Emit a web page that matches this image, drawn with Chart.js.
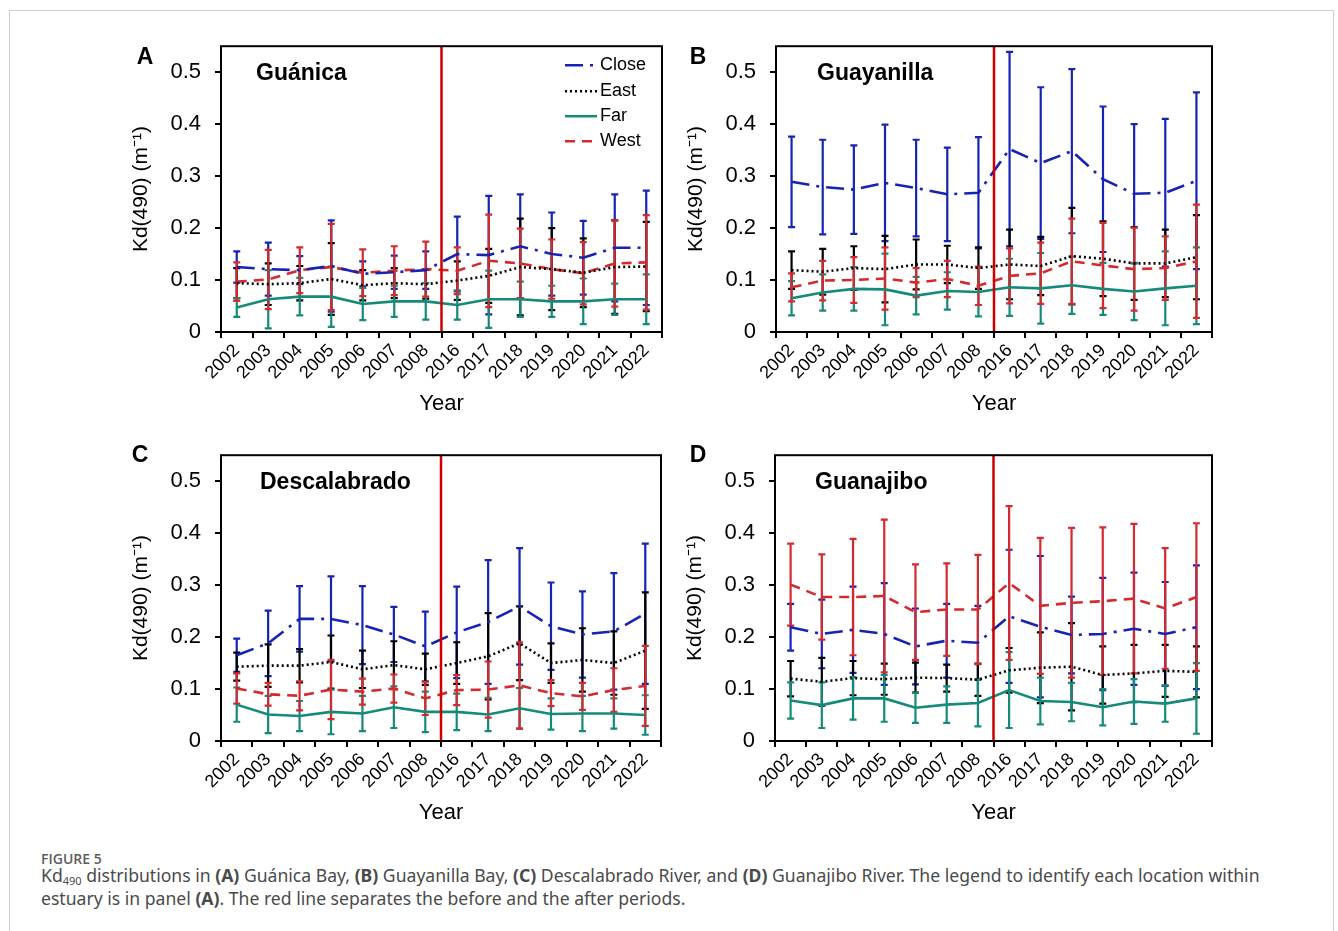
<!DOCTYPE html>
<html>
<head>
<meta charset="utf-8">
<script src="https://cdn.jsdelivr.net/npm/chart.js@4.4.0/dist/chart.umd.min.js"></script>
<style>
  body { margin: 0; background: #fff; width: 1338px; height: 931px; position: relative; overflow: hidden; }
  #frame { position: absolute; left: 9px; top: 10px; width: 1323px; height: 960px; border: 1px solid #cfcfcf; }
  canvas.panel { position: absolute; }
  #figlabel { position: absolute; left: 41px; top: 849px; font: 600 14px "Open Sans", sans-serif; color: #5c5c5c; }
  #caption { position: absolute; left: 41px; top: 864px; font: 17.6px "Noto Sans", sans-serif; line-height: 23px; color: #4a4a4a; white-space: nowrap; }
  #caption sub { font-size: 11px; vertical-align: -3px; line-height: 0; }
</style>
</head>
<body>
<div id="frame"></div>
<canvas id="chartA" class="panel" width="570" height="411" style="left:110px;top:19px"></canvas>
<canvas id="chartB" class="panel" width="570" height="411" style="left:665px;top:19px"></canvas>
<canvas id="chartC" class="panel" width="570" height="411" style="left:110px;top:428px"></canvas>
<canvas id="chartD" class="panel" width="570" height="411" style="left:664px;top:428px"></canvas>
<div id="figlabel">FIGURE 5</div>
<div id="caption">Kd<sub>490</sub> distributions in <b>(A)</b> Guánica Bay, <b>(B)</b> Guayanilla Bay, <b>(C)</b> Descalabrado River, and <b>(D)</b> Guanajibo River. The legend to identify each location within<br>estuary is in panel <b>(A)</b>. The red line separates the before and the after periods.</div>
<script>
// categories and axis
const years = ["2002", "2003", "2004", "2005", "2006", "2007", "2008", "2016", "2017", "2018", "2019", "2020", "2021", "2022"];
const seriesNames = ["Close", "East", "Far", "West"];
const yMax = 0.55;
const yStep = 0.1;

// A - Guánica
const guanicaCloseMean = [0.125, 0.121, 0.119, 0.127, 0.112, 0.115, 0.119, 0.150, 0.148, 0.165, 0.150, 0.143, 0.162, 0.162];
const guanicaCloseErr = [0.030, 0.051, 0.027, 0.088, 0.024, 0.032, 0.036, 0.072, 0.114, 0.100, 0.080, 0.071, 0.103, 0.110];
const guanicaEastMean = [0.094, 0.092, 0.094, 0.102, 0.090, 0.094, 0.092, 0.099, 0.108, 0.125, 0.121, 0.114, 0.125, 0.126];
const guanicaEastErr = [0.029, 0.040, 0.033, 0.069, 0.029, 0.029, 0.028, 0.037, 0.052, 0.093, 0.079, 0.066, 0.090, 0.086];
const guanicaFarMean = [0.047, 0.063, 0.068, 0.068, 0.054, 0.059, 0.059, 0.052, 0.063, 0.063, 0.059, 0.059, 0.063, 0.063];
const guanicaFarErr = [0.018, 0.056, 0.036, 0.058, 0.031, 0.030, 0.035, 0.028, 0.055, 0.034, 0.030, 0.044, 0.030, 0.048];
const guanicaWestMean = [0.097, 0.101, 0.119, 0.125, 0.114, 0.118, 0.121, 0.118, 0.137, 0.132, 0.121, 0.113, 0.132, 0.134];
const guanicaWestErr = [0.037, 0.057, 0.044, 0.083, 0.045, 0.047, 0.053, 0.045, 0.089, 0.067, 0.057, 0.060, 0.083, 0.091];

// B - Guayanilla
const guayanillaCloseMean = [0.289, 0.279, 0.274, 0.287, 0.277, 0.265, 0.268, 0.352, 0.325, 0.348, 0.294, 0.266, 0.268, 0.291];
const guayanillaCloseErr = [0.087, 0.091, 0.085, 0.112, 0.093, 0.090, 0.107, 0.187, 0.146, 0.158, 0.140, 0.134, 0.142, 0.170];
const guayanillaEastMean = [0.119, 0.116, 0.123, 0.121, 0.130, 0.130, 0.123, 0.130, 0.127, 0.146, 0.141, 0.132, 0.132, 0.144];
const guayanillaEastErr = [0.036, 0.044, 0.042, 0.064, 0.048, 0.036, 0.040, 0.067, 0.056, 0.093, 0.072, 0.070, 0.065, 0.081];
const guayanillaFarMean = [0.065, 0.076, 0.083, 0.082, 0.070, 0.079, 0.077, 0.086, 0.084, 0.090, 0.083, 0.078, 0.084, 0.089];
const guayanillaFarErr = [0.033, 0.035, 0.042, 0.069, 0.036, 0.036, 0.047, 0.055, 0.068, 0.055, 0.050, 0.055, 0.071, 0.074];
const guayanillaWestMean = [0.086, 0.099, 0.100, 0.103, 0.095, 0.102, 0.089, 0.108, 0.113, 0.136, 0.128, 0.121, 0.123, 0.136];
const guayanillaWestErr = [0.027, 0.038, 0.044, 0.060, 0.028, 0.035, 0.037, 0.053, 0.059, 0.082, 0.082, 0.080, 0.061, 0.109];

// C - Descalabrado
const descalabradoCloseMean = [0.165, 0.188, 0.235, 0.235, 0.223, 0.205, 0.182, 0.209, 0.229, 0.259, 0.221, 0.205, 0.211, 0.245];
const descalabradoCloseErr = [0.032, 0.063, 0.063, 0.082, 0.075, 0.053, 0.067, 0.088, 0.119, 0.112, 0.084, 0.083, 0.112, 0.135];
const descalabradoEastMean = [0.143, 0.145, 0.145, 0.152, 0.138, 0.146, 0.138, 0.150, 0.163, 0.188, 0.150, 0.156, 0.150, 0.174];
const descalabradoEastErr = [0.027, 0.041, 0.032, 0.051, 0.036, 0.046, 0.030, 0.040, 0.083, 0.071, 0.038, 0.061, 0.061, 0.112];
const descalabradoFarMean = [0.070, 0.051, 0.048, 0.056, 0.053, 0.065, 0.056, 0.056, 0.051, 0.063, 0.052, 0.053, 0.053, 0.050];
const descalabradoFarErr = [0.033, 0.036, 0.029, 0.043, 0.034, 0.040, 0.039, 0.035, 0.032, 0.039, 0.030, 0.034, 0.029, 0.038];
const descalabradoWestMean = [0.101, 0.090, 0.087, 0.099, 0.095, 0.101, 0.082, 0.098, 0.099, 0.107, 0.092, 0.086, 0.098, 0.106];
const descalabradoWestErr = [0.029, 0.022, 0.028, 0.057, 0.025, 0.027, 0.032, 0.029, 0.054, 0.083, 0.025, 0.026, 0.042, 0.077];

// D - Guanajibo
const guanajiboCloseMean = [0.219, 0.206, 0.214, 0.206, 0.182, 0.193, 0.189, 0.240, 0.220, 0.204, 0.206, 0.216, 0.206, 0.219];
const guanajiboCloseErr = [0.045, 0.066, 0.083, 0.098, 0.073, 0.071, 0.071, 0.128, 0.136, 0.074, 0.108, 0.108, 0.100, 0.119];
const guanajiboEastMean = [0.120, 0.114, 0.121, 0.119, 0.122, 0.121, 0.118, 0.136, 0.141, 0.143, 0.127, 0.130, 0.135, 0.133];
const guanajiboEastErr = [0.034, 0.046, 0.033, 0.030, 0.029, 0.026, 0.031, 0.043, 0.068, 0.084, 0.055, 0.055, 0.050, 0.049];
const guanajiboFarMean = [0.078, 0.069, 0.082, 0.082, 0.064, 0.070, 0.073, 0.098, 0.077, 0.075, 0.065, 0.076, 0.072, 0.082];
const guanajiboFarErr = [0.035, 0.044, 0.041, 0.045, 0.029, 0.035, 0.045, 0.073, 0.045, 0.037, 0.035, 0.043, 0.035, 0.068];
const guanajiboWestMean = [0.301, 0.277, 0.277, 0.279, 0.248, 0.253, 0.253, 0.304, 0.260, 0.266, 0.269, 0.274, 0.255, 0.277];
const guanajiboWestErr = [0.079, 0.082, 0.112, 0.147, 0.092, 0.089, 0.105, 0.148, 0.131, 0.144, 0.142, 0.144, 0.116, 0.142];

const FONT = "'Liberation Sans', Arial, sans-serif";
const seriesColors = ["#1624b4", "#000000", "#168a78", "#d42a2e"];
const seriesDash = [[18, 7, 3, 7], [2, 3], [], [10, 7]];

const panels = [
  { id: "chartA", letter: "A", title: "Guánica", padR: 18, titleDx: 35, letterX: 35, letterY: 39, legend: true,
    means: [guanicaCloseMean, guanicaEastMean, guanicaFarMean, guanicaWestMean],
    errs: [guanicaCloseErr, guanicaEastErr, guanicaFarErr, guanicaWestErr] },
  { id: "chartB", letter: "B", title: "Guayanilla", padR: 23, titleDx: 41, letterX: 33, letterY: 39, legend: false,
    means: [guayanillaCloseMean, guayanillaEastMean, guayanillaFarMean, guayanillaWestMean],
    errs: [guayanillaCloseErr, guayanillaEastErr, guayanillaFarErr, guayanillaWestErr] },
  { id: "chartC", letter: "C", title: "Descalabrado", padR: 19, titleDx: 39, letterX: 30, letterY: 28, legend: false,
    means: [descalabradoCloseMean, descalabradoEastMean, descalabradoFarMean, descalabradoWestMean],
    errs: [descalabradoCloseErr, descalabradoEastErr, descalabradoFarErr, descalabradoWestErr] },
  { id: "chartD", letter: "D", title: "Guanajibo", padR: 22, titleDx: 40, letterX: 34, letterY: 28, legend: false,
    means: [guanajiboCloseMean, guanajiboEastMean, guanajiboFarMean, guanajiboWestMean],
    errs: [guanajiboCloseErr, guanajiboEastErr, guanajiboFarErr, guanajiboWestErr] },
];

function makeExtras(p) {
  return {
    id: "kdExtras",
    beforeDatasetsDraw(chart) {
      // error bars under the lines
      const ctx = chart.ctx;
      const ys = chart.scales.y;
      ctx.save();
      ctx.lineWidth = 2.2;
      ctx.setLineDash([]);
      chart.data.datasets.forEach((ds, i) => {
        const meta = chart.getDatasetMeta(i);
        ctx.strokeStyle = ds.borderColor;
        meta.data.forEach((pt, j) => {
          const m = ds.data[j];
          const e = ds.errors[j];
          const yt = ys.getPixelForValue(m + e);
          const yb = ys.getPixelForValue(m - e);
          ctx.beginPath();
          ctx.moveTo(pt.x, yt);
          ctx.lineTo(pt.x, yb);
          ctx.moveTo(pt.x - 3.5, yt);
          ctx.lineTo(pt.x + 3.5, yt);
          ctx.moveTo(pt.x - 3.5, yb);
          ctx.lineTo(pt.x + 3.5, yb);
          ctx.stroke();
        });
      });
      ctx.restore();
    },
    afterDatasetsDraw(chart) {
      const ctx = chart.ctx;
      const xs = chart.scales.x;
      const a = chart.chartArea;
      // before / after separator
      const xSep = (xs.getPixelForValue(6) + xs.getPixelForValue(7)) / 2;
      ctx.save();
      ctx.strokeStyle = "#cc0000";
      ctx.lineWidth = 2.5;
      ctx.beginPath();
      ctx.moveTo(xSep, a.top);
      ctx.lineTo(xSep, a.bottom);
      ctx.stroke();
      ctx.restore();
    },
    afterDraw(chart) {
      const ctx = chart.ctx;
      const a = chart.chartArea;
      ctx.save();
      ctx.strokeStyle = "#000";
      ctx.lineWidth = 2;
      ctx.strokeRect(a.left, a.top, a.right - a.left, a.bottom - a.top);
      ctx.fillStyle = "#000";
      ctx.textBaseline = "middle";
      ctx.textAlign = "left";
      ctx.font = "bold 23px " + FONT;
      ctx.fillText(p.title, a.left + p.titleDx, a.top + 27);
      ctx.textAlign = "center";
      ctx.font = "bold 23px " + FONT;
      ctx.fillText(p.letter, p.letterX, p.letterY);
      if (p.legend) {
        ctx.font = "18px " + FONT;
        ctx.textAlign = "left";
        const rows = [19, 45, 70, 95];
        chart.data.datasets.forEach((ds, i) => {
          const yy = a.top + rows[i];
          ctx.strokeStyle = ds.borderColor;
          ctx.lineWidth = 2.5;
          ctx.setLineDash(ds.borderDash);
          ctx.beginPath();
          ctx.moveTo(a.right - 97, yy);
          ctx.lineTo(a.right - 65, yy);
          ctx.stroke();
          ctx.setLineDash([]);
          ctx.fillText(ds.label, a.right - 62, yy);
        });
      }
      ctx.restore();
    },
  };
}

Chart.defaults.font.family = FONT;
Chart.defaults.color = "#000";

panels.forEach((p) => {
  const datasets = seriesNames.map((name, i) => ({
    label: name,
    data: p.means[i],
    errors: p.errs[i],
    borderColor: seriesColors[i],
    borderWidth: 2.6,
    borderDash: seriesDash[i],
    borderCapStyle: "butt",
    pointRadius: 0,
    fill: false,
    tension: 0,
  }));
  new Chart(document.getElementById(p.id), {
    type: "line",
    data: { labels: years, datasets: datasets },
    plugins: [makeExtras(p)],
    options: {
      responsive: false,
      animation: false,
      layout: { padding: { top: 16, right: p.padR, left: 0, bottom: 0 } },
      plugins: { legend: { display: false }, tooltip: { enabled: false } },
      scales: {
        x: {
          type: "category",
          offset: true,
          border: { display: false },
          grid: { offset: true, drawOnChartArea: false, drawTicks: true, tickLength: 6, color: "#000", lineWidth: 2 },
          ticks: { autoSkip: false, maxRotation: 45, minRotation: 45, padding: 2, font: { size: 18 }, color: "#000" },
          title: { display: true, text: "Year", font: { size: 22 }, color: "#000", padding: { top: 0, bottom: 13 } },
          afterFit: (s) => { s.height = 98; },
        },
        y: {
          min: 0,
          max: yMax,
          border: { display: false },
          grid: { drawOnChartArea: false, drawTicks: true, tickLength: 6, color: "#000", lineWidth: 2 },
          ticks: { stepSize: yStep, includeBounds: false, padding: 14, font: { size: 22 }, color: "#000" },
          title: { display: true, text: "Kd(490) (m\u207B\u00B9)", font: { size: 21 }, color: "#000", padding: { top: 19, bottom: 0 } },
          afterFit: (s) => { s.width = 111; },
        },
      },
    },
  });
});
</script>
</body>
</html>
